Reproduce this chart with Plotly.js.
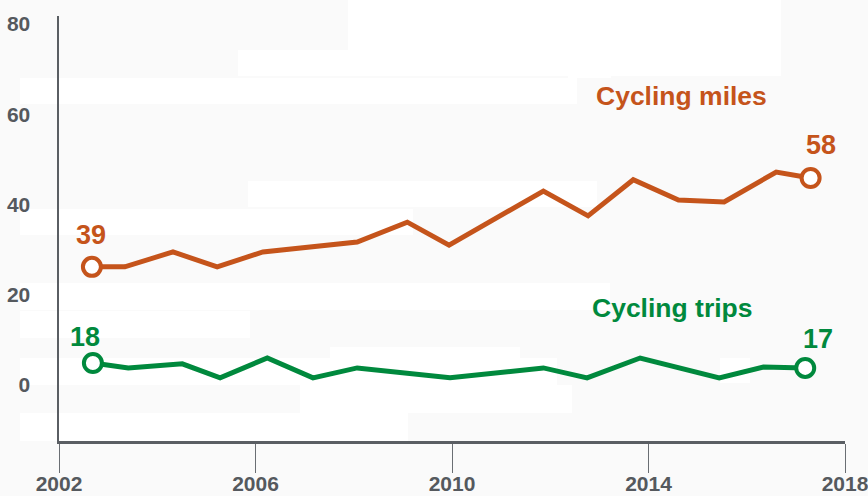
<!DOCTYPE html>
<html>
<head>
<meta charset="utf-8">
<script src="https://cdn.plot.ly/plotly-3.0.1.min.js"></script>
<style>html,body{margin:0;padding:0;background:#fafafa;}#chart{width:868px;height:496px;}</style>
</head>
<body>
<div id="chart"></div>
<script>
// Cycling miles (orange)
const milesYears = [2002.67, 2003.34, 2004.32, 2005.22, 2006.15, 2008.07, 2009.09, 2009.94, 2011.86, 2012.77, 2013.69, 2014.61, 2015.54, 2016.60, 2017.30];
const milesValues = [26.2, 26.2, 29.5, 26.2, 29.5, 31.7, 36.1, 31.0, 43.0, 37.5, 45.5, 41.0, 40.6, 47.2, 45.9];
// Cycling trips (green)
const tripsYears = [2002.69, 2003.41, 2004.51, 2005.28, 2006.24, 2007.17, 2008.07, 2009.96, 2011.86, 2012.75, 2013.83, 2015.44, 2016.34, 2017.19];
const tripsValues = [4.9, 3.8, 4.7, 1.6, 6.0, 1.6, 3.8, 1.6, 3.8, 1.6, 6.0, 1.6, 4.0, 3.8];
// Labels
const milesStartLabel = "39", milesEndLabel = "58";
const tripsStartLabel = "18", tripsEndLabel = "17";
const seriesNames = ["Cycling miles", "Cycling trips"];
const xTicks = [2002, 2006, 2010, 2014, 2018];
const yTicks = [0, 20, 40, 60, 80];

const ORANGE = "#c5541b", GREEN = "#00893d", GREY = "#55595e";
const FONT = "Liberation Sans, Arial, sans-serif";

function ends(a){ return [a[0], a[a.length-1]]; }

const traces = [
  {x: milesYears, y: milesValues, mode: "lines", line: {color: ORANGE, width: 5}, hoverinfo: "skip"},
  {x: tripsYears, y: tripsValues, mode: "lines", line: {color: GREEN, width: 5}, hoverinfo: "skip"},
  {x: ends(milesYears), y: ends(milesValues), mode: "markers", marker: {size: 18, color: "#ffffff", line: {color: ORANGE, width: 4}}, hoverinfo: "skip"},
  {x: ends(tripsYears), y: ends(tripsValues), mode: "markers", marker: {size: 18, color: "#ffffff", line: {color: GREEN, width: 4}}, hoverinfo: "skip"}
];

const mL = milesYears.length-1, tL = tripsYears.length-1;
const ann = (x, y, text, color, xs, ys, size) => ({x, y, text: "<b>"+text+"</b>", showarrow: false, xshift: xs, yshift: ys, font: {family: FONT, size: size, color}, xanchor: "center", yanchor: "middle"});
const annotations = [
  ann(milesYears[0], milesValues[0], milesStartLabel, ORANGE, -1, 32, 27),
  ann(milesYears[mL], milesValues[mL], milesEndLabel, ORANGE, 10, 33, 27),
  ann(tripsYears[0], tripsValues[0], tripsStartLabel, GREEN, -8, 26, 27),
  ann(tripsYears[tL], tripsValues[tL], tripsEndLabel, GREEN, 13, 29, 27),
  ann(2014.68, 64.1, seriesNames[0], ORANGE, 0, 0, 26.5),
  ann(2014.48, 17.1, seriesNames[1], GREEN, 0, 0, 26.5)
];

// subtle white background blocks (pixel rectangles -> paper coords)
const W = 868, H = 496;
const blocks = [[348,0,781,50],[238,50,781,76],[568,68,611,78],[20,78,577,104],[248,181,597,207],[20,209,413,235],[20,283,610,310],[20,311,250,338],[330,347,520,358],[20,358,557,385],[300,385,572,413],[20,413,408,441],[720,358,750,383]];
const shapes = blocks.map(b => ({type: "rect", xref: "paper", yref: "paper", layer: "below",
  x0: (b[0]-59)/786, x1: (b[2]-59)/786, y0: 1-(b[3]-16)/425, y1: 1-(b[1]-16)/425,
  fillcolor: "#ffffff", line: {width: 0}}));

const layout = {
  width: W, height: H,
  margin: {l: 59, r: 23, t: 16, b: 55},
  paper_bgcolor: "#fafafa", plot_bgcolor: "rgba(0,0,0,0)",
  showlegend: false,
  font: {family: FONT},
  xaxis: {range: [2002, 2018], tickvals: xTicks, ticktext: xTicks.map(String), showgrid: false, zeroline: false,
    showline: true, linecolor: "#5a5e63", linewidth: 2.5, ticks: "outside", ticklen: 29, tickwidth: 1, tickcolor: "#6a6e73",
    ticklabeloverflow: "allow", ticklabelstandoff: -7,
    tickfont: {family: FONT, size: 21, color: GREY, weight: "bold"}, fixedrange: true},
  yaxis: {range: [-12.4, 81.8], tickvals: yTicks, ticktext: yTicks.map(String), showgrid: false, zeroline: false,
    showline: true, linecolor: "#5a5e63", linewidth: 2.5, ticks: "", ticklabelstandoff: 22,
    tickfont: {family: FONT, size: 21, color: GREY, weight: "bold"}, fixedrange: true},
  annotations, shapes
};

Plotly.newPlot("chart", traces, layout, {displayModeBar: false, staticPlot: true});
</script>
</body>
</html>
